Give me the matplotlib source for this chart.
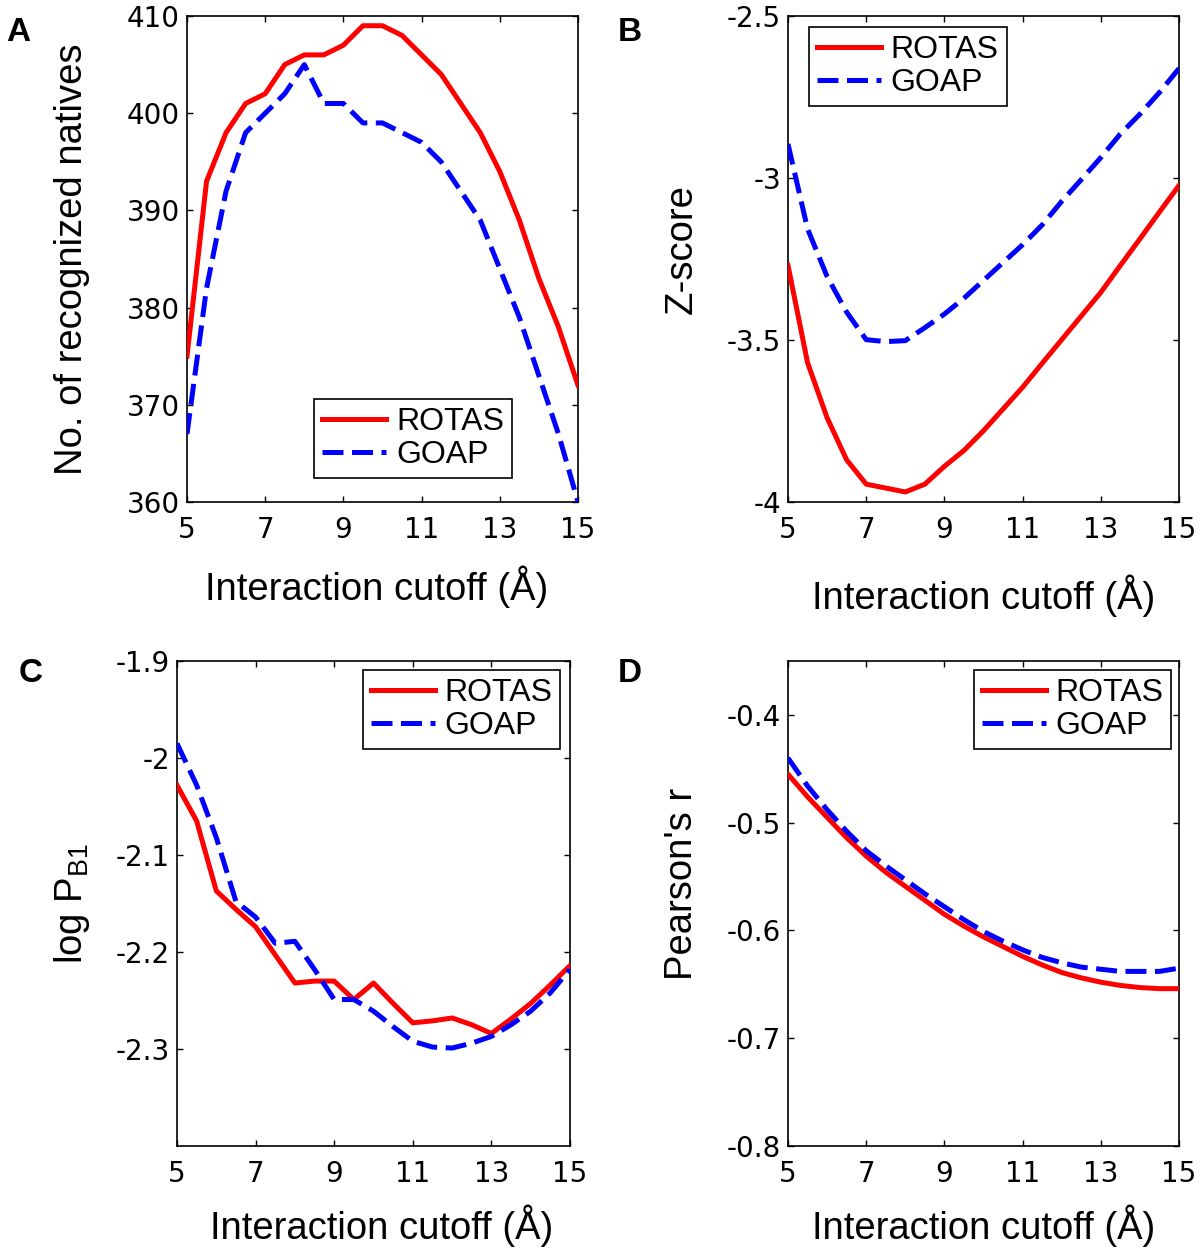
import matplotlib
matplotlib.use('Agg')
import matplotlib.pyplot as plt

plt.rcParams['font.family'] = 'Liberation Sans'
plt.rcParams['axes.unicode_minus'] = False

# interaction cutoff (A)
cutoff = [5, 5.5, 6, 6.5, 7, 7.5, 8, 8.5, 9, 9.5, 10,
          10.5, 11, 11.5, 12, 12.5, 13, 13.5, 14, 14.5, 15]

# A: number of recognized natives
rotas_natives = [375, 393, 398, 401, 402, 405, 406, 406, 407, 409, 409,
                 408, 406, 404, 401, 398, 394, 389, 383, 378, 372]
goap_natives = [367, 382, 392, 398, 400, 402, 405, 401, 401, 399, 399,
                398, 397, 395, 392, 389, 384, 379, 373, 367, 360]

# B: Z-score
rotas_zscore = [-3.27, -3.57, -3.74, -3.87, -3.945, -3.957, -3.969, -3.945, -3.89, -3.841, -3.78,
                -3.713, -3.646, -3.572, -3.499, -3.426, -3.353, -3.27, -3.188, -3.105, -3.023]
goap_zscore = [-2.895, -3.157, -3.304, -3.414, -3.499, -3.505, -3.502, -3.462, -3.42, -3.371, -3.316,
               -3.261, -3.206, -3.145, -3.072, -3.005, -2.937, -2.864, -2.803, -2.736, -2.662]

# C: log P_B1
rotas_logp = [-2.028, -2.065, -2.137, -2.156, -2.174, -2.203, -2.232, -2.23, -2.23, -2.249, -2.232,
              -2.253, -2.273, -2.271, -2.268, -2.275, -2.284, -2.269, -2.253, -2.234, -2.214]
goap_logp = [-1.985, -2.028, -2.082, -2.148, -2.164, -2.191, -2.189, -2.218, -2.249, -2.249, -2.261,
             -2.277, -2.292, -2.298, -2.299, -2.294, -2.287, -2.275, -2.261, -2.242, -2.218]

# D: Pearson's r
rotas_pearson = [-0.455, -0.476, -0.495, -0.514, -0.531, -0.546, -0.559, -0.572, -0.585, -0.596, -0.606,
                 -0.615, -0.624, -0.632, -0.639, -0.644, -0.648, -0.651, -0.653, -0.654, -0.654]
goap_pearson = [-0.440, -0.466, -0.488, -0.508, -0.526, -0.540, -0.553, -0.566, -0.578, -0.590, -0.601,
                -0.610, -0.618, -0.625, -0.630, -0.634, -0.636, -0.638, -0.638, -0.638, -0.635]

xticks = [5, 7, 9, 11, 13, 15]

RED = '#ff0000'
BLUE = '#0000ff'
W, H = 1200, 1249

fig = plt.figure(figsize=(12, 12.49), dpi=100)


def px_axes(x0, y0, x1, y1):
    return fig.add_axes([x0 / W, 1 - y1 / H, (x1 - x0) / W, (y1 - y0) / H])


def draw_panel(ax, rotas, goap, ylim, yticks, ylabel, ylab_xy, xlab_xy, leg_loc, leg_anchor):
    ax.plot(cutoff, rotas, color=RED, linewidth=3.6, label='ROTAS', zorder=3)
    ax.plot(cutoff, goap, color=BLUE, linewidth=3.6, linestyle=(0, (4.2, 1.7)),
            label='GOAP', zorder=3)
    ax.set_xlim(5, 15)
    ax.set_ylim(*ylim)
    ax.set_xticks(xticks)
    ax.set_yticks(yticks)
    ax.set_xticklabels([f'{t:g}' for t in xticks], family='DejaVu Sans', fontsize=20)
    ax.set_yticklabels([f'{t:g}' for t in yticks], family='DejaVu Sans', fontsize=20)
    ax.tick_params(direction='in', length=4, width=1, top=True, right=True)
    ax.tick_params(axis='x', pad=10)
    ax.tick_params(axis='y', pad=5)
    for s in ax.spines.values():
        s.set_linewidth(1.2)
    ax.set_ylabel(ylabel, fontsize=27.5)
    ax.yaxis.set_label_coords(*ylab_xy)
    ax.set_xlabel('Interaction cutoff (Å)', fontsize=27.5)
    ax.xaxis.set_label_coords(*xlab_xy)
    leg = ax.legend(loc=leg_loc, bbox_to_anchor=leg_anchor, borderaxespad=0,
                    fontsize=23, fancybox=False, framealpha=1, edgecolor='black',
                    handlelength=2.0, handletextpad=0.3, borderpad=0.25,
                    labelspacing=0.1)
    leg.get_frame().set_linewidth(1.2)


# ── Panel A ──
axA = px_axes(187, 16, 578, 502)
draw_panel(axA, rotas_natives, goap_natives, (360, 410), [360, 370, 380, 390, 400, 410],
           'No. of recognized natives', (-0.248, 0.5), (0.485, -0.13),
           'lower right', (0.831, 0.049))

# ── Panel B ──
axB = px_axes(788, 16, 1179, 502)
draw_panel(axB, rotas_zscore, goap_zscore, (-4, -2.5), [-4, -3.5, -3, -2.5],
           'Z-score', (-0.225, 0.52), (0.5, -0.15),
           'upper left', (0.054, 0.977))

# ── Panel C ──
axC = px_axes(177, 661, 570, 1146)
draw_panel(axC, rotas_logp, goap_logp, (-2.4, -1.9), [-2.3, -2.2, -2.1, -2.0, -1.9],
           r'log P$_{\mathregular{B1}}$', (-0.216, 0.5), (0.52, -0.12),
           'upper right', (0.975, 0.981))

# ── Panel D ──
axD = px_axes(788, 661, 1179, 1146)
draw_panel(axD, rotas_pearson, goap_pearson, (-0.8, -0.35), [-0.8, -0.7, -0.6, -0.5, -0.4],
           "Pearson's r", (-0.225, 0.54), (0.5, -0.12),
           'upper right', (0.98, 0.981))

# panel letters
for letter, x, y in [('A', 6, 41), ('B', 618, 41), ('C', 19, 682), ('D', 618, 682)]:
    fig.text(x / W, 1 - y / H, letter, fontsize=24, fontweight='bold',
             ha='left', va='baseline')

fig.savefig('out.png', dpi=100, facecolor='white')
